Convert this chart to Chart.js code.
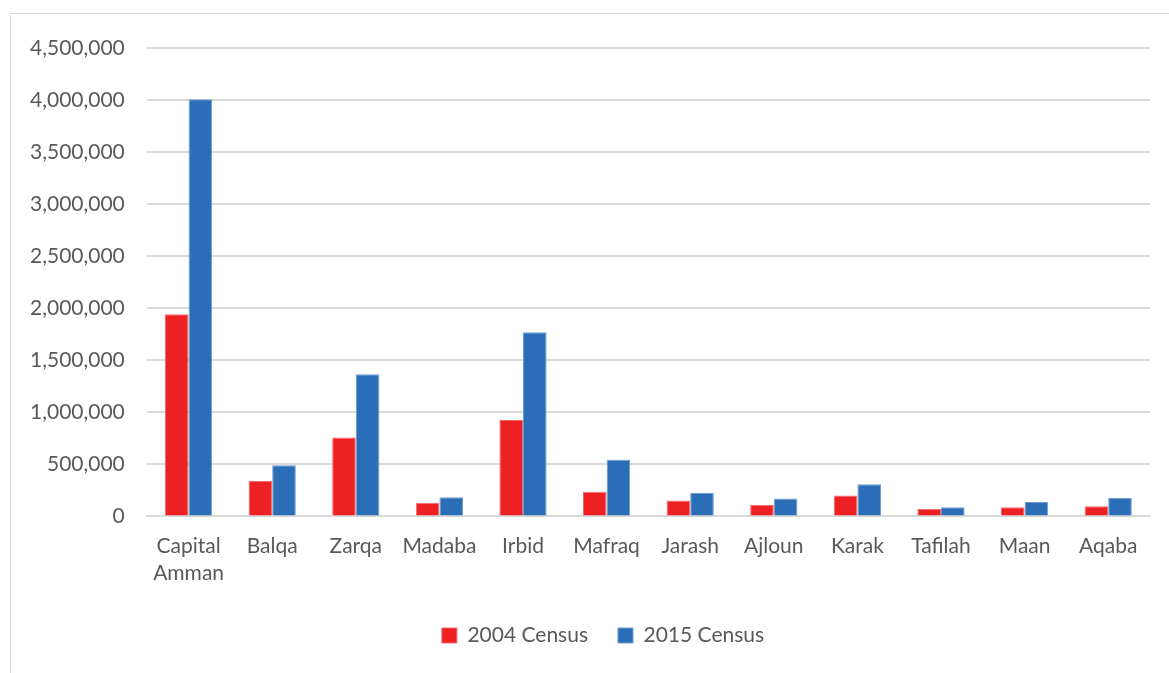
<!DOCTYPE html>
<html>
<head>
<meta charset="utf-8">
<script src="https://cdn.jsdelivr.net/npm/chart.js@4"></script>
<style>
  body { margin: 0; background: #fff; }
  #frame { position: absolute; left: 10px; top: 13px; width: 1200px; height: 700px; border: 1px solid #d9d9d9; }
  #wrap { position: absolute; left: 0; top: 0; width: 1169px; height: 673px; }
</style>
</head>
<body>
<div id="frame"></div>
<div id="wrap"><canvas id="chart"></canvas></div>
<script>
// governorates
const regions = [['Capital', 'Amman'], 'Balqa', 'Zarqa', 'Madaba', 'Irbid', 'Mafraq', 'Jarash', 'Ajloun', 'Karak', 'Tafilah', 'Maan', 'Aqaba'];
const census2004 = [1942000, 340000, 758000, 130000, 925000, 237000, 152000, 113000, 200000, 70000, 88000, 97000];
const census2015 = [4007000, 491000, 1365000, 183000, 1770000, 545000, 227000, 172000, 310000, 88000, 138000, 180000];
const yTicks = [0, 500000, 1000000, 1500000, 2000000, 2500000, 3000000, 3500000, 4000000, 4500000];

const fontFamily = 'Lato, "Open Sans", sans-serif';
const textColor = '#595959';

// legend in the original sits a bit right of the canvas centre
const legendShift = {
  id: 'legendShift',
  afterLayout(chart) {
    if (chart.legend) {
      chart.legend.left += 24;
      chart.legend.right += 24;
    }
  },
};

new Chart(document.getElementById('chart'), {
  type: 'bar',
  plugins: [legendShift],
  data: {
    labels: regions,
    datasets: [
      {
        label: '2004 Census',
        data: census2004,
        backgroundColor: '#ED2024',
        borderColor: '#F36A6C',
        borderWidth: 1,
        categoryPercentage: 0.565,
        barPercentage: 1.0,
      },
      {
        label: '2015 Census',
        data: census2015,
        backgroundColor: '#2A6EB8',
        borderColor: '#6E9CD0',
        borderWidth: 1,
        categoryPercentage: 0.565,
        barPercentage: 1.0,
      },
    ],
  },
  options: {
    responsive: true,
    maintainAspectRatio: false,
    animation: false,
    layout: { padding: { left: 8, right: 19, top: 48, bottom: 17 } },
    plugins: {
      tooltip: { enabled: false },
      legend: {
        position: 'bottom',
        labels: {
          font: { family: fontFamily, size: 21 },
          color: textColor,
          boxWidth: 15,
          boxHeight: 15,
          padding: 30,
        },
      },
    },
    scales: {
      x: {
        grid: { display: false },
        border: { color: '#d9d9d9', width: 2 },
        ticks: {
          font: { family: fontFamily, size: 21, lineHeight: 1.3 },
          color: textColor,
          maxRotation: 0,
          autoSkip: false,
          padding: 8,
        },
      },
      y: {
        min: 0,
        max: 4500000,
        afterBuildTicks: (axis) => { axis.ticks = yTicks.map(v => ({ value: v })); },
        grid: { color: '#d9d9d9', lineWidth: 2, drawTicks: false },
        border: { display: false },
        ticks: {
          font: { family: fontFamily, size: 21 },
          color: textColor,
          padding: 22,
          callback: (v) => v.toLocaleString('en-US'),
        },
      },
    },
  },
});
</script>
</body>
</html>
